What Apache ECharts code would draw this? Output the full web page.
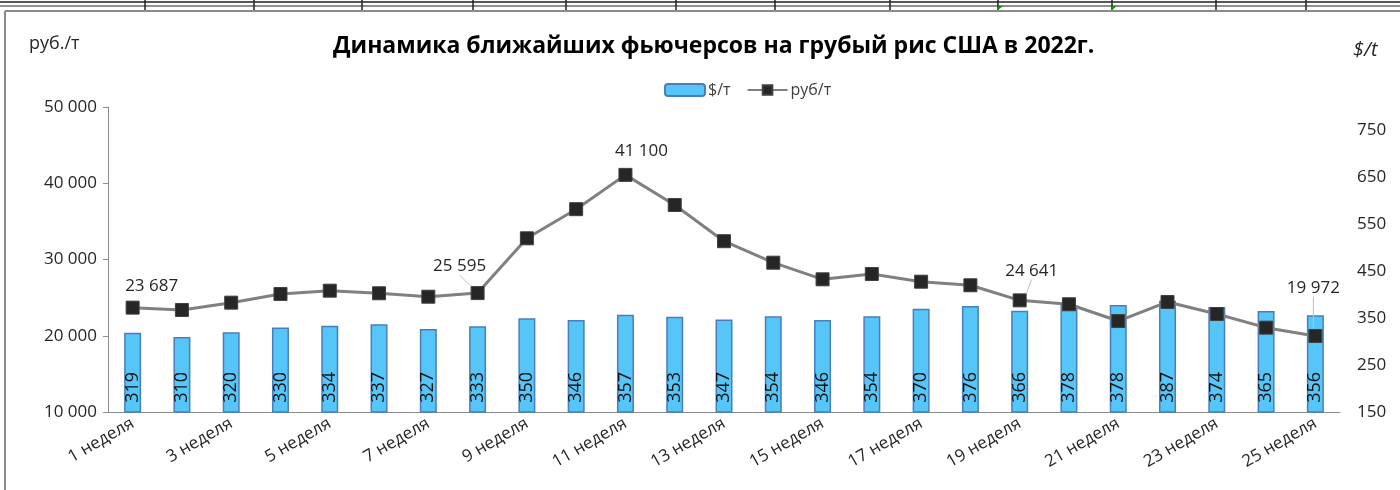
<!DOCTYPE html>
<html><head><meta charset="utf-8">
<script src="https://cdn.jsdelivr.net/npm/echarts@6/dist/echarts.min.js"></script>
<style>
body{margin:0;background:#fff}
#chart{position:absolute;left:0;top:0;width:1400px;height:490px}
</style></head><body>
<div id="chart"></div>
<script>
const categories = ['1 неделя','2 неделя','3 неделя','4 неделя','5 неделя','6 неделя','7 неделя','8 неделя','9 неделя','10 неделя','11 неделя','12 неделя','13 неделя','14 неделя','15 неделя','16 неделя','17 неделя','18 неделя','19 неделя','20 неделя','21 неделя','22 неделя','23 неделя','24 неделя','25 неделя'];
const usdValues = [319,310,320,330,334,337,327,333,350,346,357,353,347,354,346,354,370,376,366,378,378,387,374,365,356];
const rubValues = [23687,23380,24340,25480,25910,25570,25120,25595,32780,36600,41100,37150,32400,29580,27400,28100,27090,26620,24641,24130,21930,24430,22850,21060,19972];
const labeledPoints = [0,7,10,18,24];
const leftTicks = [10000,50000,10000];   // min, max, interval
const rightTicks = [150,800,100];        // min, max, interval

const labelShift = {0:[19,-1,false],7:[-18,-6,true],10:[16,-3,false],18:[12,-9,true],24:[-2,-27,true]};
const FONT = '"Open Sans", "Noto Sans", sans-serif';
const fmt = v => String(v).replace(/\B(?=(\d{3})+(?!\d))/g, ' ');

const chart = echarts.init(document.getElementById('chart'), null, {renderer:'canvas'});

const gridX = [145,254,362,473,566,676,775,890,998,1112,1216,1306];
const graphics = [
  {type:'line', shape:{x1:0,y1:2,x2:1400,y2:2}, style:{stroke:'#222',lineWidth:1.5}, silent:true},
  {type:'line', shape:{x1:0,y1:6,x2:1400,y2:6}, style:{stroke:'#222',lineWidth:1}, silent:true},
  {type:'line', shape:{x1:5,y1:11,x2:1400,y2:11}, style:{stroke:'#8a8a8a',lineWidth:2}, silent:true},
  {type:'line', shape:{x1:5,y1:11,x2:5,y2:490}, style:{stroke:'#8a8a8a',lineWidth:2}, silent:true},
  {type:'text', left:29, top:35, style:{text:'руб./т', font:'18px '+FONT, fill:'#262626'}},
  {type:'text', left:1353, top:40, style:{text:'$/t', font:'italic 20px '+FONT, fill:'#262626'}}
];
gridX.forEach(x => graphics.push({type:'line', shape:{x1:x,y1:0,x2:x,y2:10}, style:{stroke:'#222',lineWidth:1.5}, silent:true}));
[998,1112].forEach(x => graphics.push({type:'polygon', shape:{points:[[x,6],[x+5,6],[x,10]]}, style:{fill:'#1a8a1a'}, silent:true}));

chart.setOption({
  animation:false,
  backgroundColor:'#fff',
  title:{text:'Динамика ближайших фьючерсов на грубый рис США в 2022г.', left:328, top:30,
    textStyle:{fontFamily:FONT, fontWeight:'bold', fontSize:23, color:'#000'}},
  legend:{top:77, left:659, itemWidth:40, itemHeight:12, itemGap:16,
    textStyle:{fontFamily:FONT, fontSize:16, color:'#404040', padding:[0,0,0,-2]},
    data:['$/т','руб/т']},
  graphic:graphics,
  grid:{left:108, right:60, top:107, bottom:78},
  xAxis:{type:'category', data:categories, boundaryGap:true,
    axisLine:{lineStyle:{color:'#8c8c8c', width:1}},
    axisTick:{interval:0, length:6, lineStyle:{color:'#8c8c8c'}},
    axisLabel:{interval:1, rotate:30, margin:10, fontFamily:FONT, fontSize:17, color:'#262626'}},
  yAxis:[
    {type:'value', min:leftTicks[0], max:leftTicks[1], interval:leftTicks[2],
      axisLine:{show:true, lineStyle:{color:'#8c8c8c'}}, axisTick:{show:true, length:5, lineStyle:{color:'#8c8c8c'}},
      splitLine:{show:false},
      axisLabel:{formatter:fmt, fontFamily:FONT, fontSize:17, color:'#262626', margin:11}},
    {type:'value', min:rightTicks[0], max:rightTicks[1], interval:rightTicks[2], position:'right',
      axisLine:{show:false}, axisTick:{show:false}, splitLine:{show:false},
      axisLabel:{showMaxLabel:false, fontFamily:FONT, fontSize:17, color:'#262626', margin:17}}
  ],
  series:[
    {name:'$/т', type:'bar', yAxisIndex:1, data:usdValues, barWidth:17,
      itemStyle:{color:'#56c5f8', borderColor:'#4a7ebb', borderWidth:1.5},
      label:{show:true, position:'insideBottom', rotate:90, align:'left', verticalAlign:'middle', distance:10,
        fontFamily:FONT, fontSize:18, color:'#111'}},
    {name:'руб/т', type:'line', yAxisIndex:0, z:5,
      data:rubValues.map((v,i) => labeledPoints.includes(i)
        ? {value:v, label:{show:true}, labelLine:{show:labelShift[i][2]}}
        : {value:v}),
      symbol:'rect', symbolSize:13,
      lineStyle:{color:'#808080', width:3},
      itemStyle:{color:'#262626', borderColor:'#404040', borderWidth:1},
      label:{show:false, position:'top', distance:5, formatter:p => fmt(p.value),
        fontFamily:FONT, fontSize:17, color:'#262626'},
      labelLine:{lineStyle:{color:'#c0c0c0', width:1}},
      labelLayout:p => { const s = labelShift[p.dataIndex]; return s ? {dx:s[0], dy:s[1]} : {}; }
    }
  ]
});
</script></body></html>
